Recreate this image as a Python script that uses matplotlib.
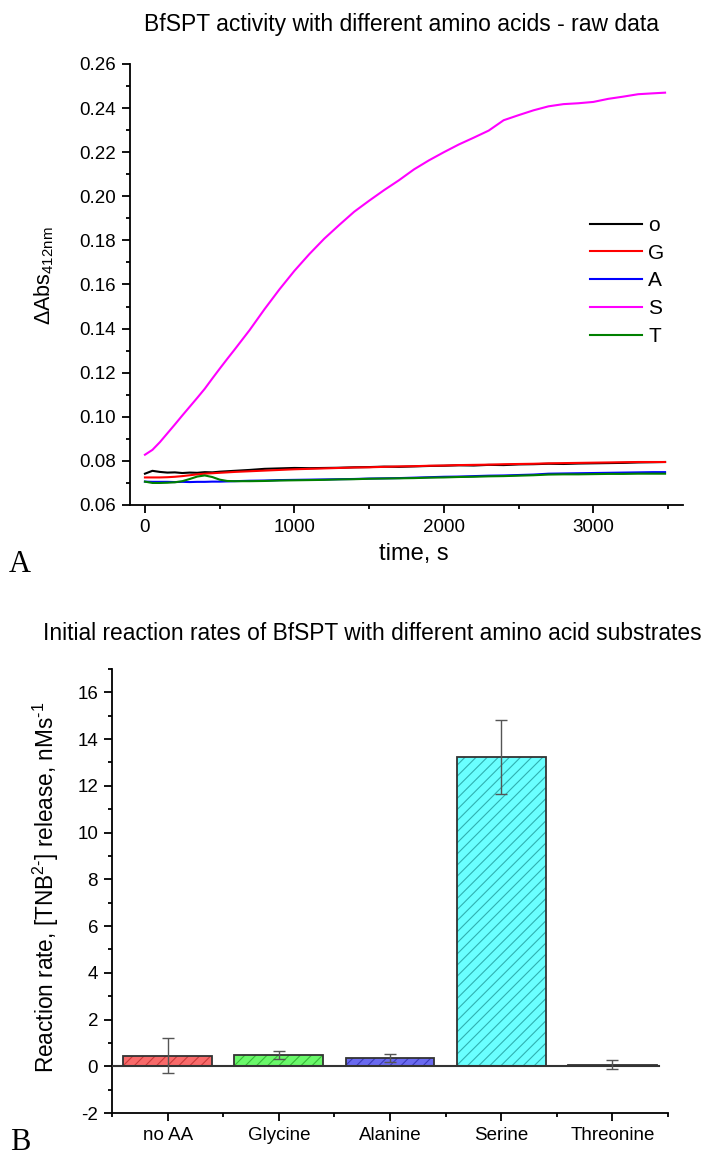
import matplotlib
matplotlib.use("Agg")
import matplotlib.pyplot as plt
from matplotlib.ticker import MultipleLocator, FixedLocator, FormatStrFormatter

plt.rcParams['font.family'] = ['Liberation Sans', 'DejaVu Sans']
plt.rcParams['mathtext.fontset'] = 'custom'
plt.rcParams['mathtext.rm'] = 'Liberation Sans'
plt.rcParams['mathtext.it'] = 'Liberation Sans'
plt.rcParams['mathtext.default'] = 'regular'
plt.rcParams['axes.unicode_minus'] = False
plt.rcParams['hatch.linewidth'] = 0.8

# ---- Panel A: raw absorbance traces ----
time_s = [0, 50, 100, 150, 200, 250, 300, 350, 400, 450, 500, 550, 600,
          700, 800, 900, 1000, 1100, 1200, 1300, 1400, 1500, 1600, 1700,
          1800, 1900, 2000, 2100, 2200, 2300, 2400, 2500, 2600, 2700, 2800,
          2900, 3000, 3100, 3200, 3300, 3400, 3480]

abs_none = [0.0742, 0.0755, 0.0750, 0.0747, 0.0748, 0.0745, 0.0747, 0.0746,
            0.0749, 0.0748, 0.0751, 0.0753, 0.0755, 0.0759, 0.0764, 0.0766,
            0.0768, 0.0767, 0.0768, 0.0769, 0.0771, 0.0772, 0.0774, 0.0773,
            0.0775, 0.0777, 0.0778, 0.0780, 0.0779, 0.0782, 0.0781, 0.0784,
            0.0785, 0.0787, 0.0786, 0.0788, 0.0789, 0.0790, 0.0791, 0.0793,
            0.0794, 0.0795]
abs_gly = [0.0725, 0.0725, 0.0725, 0.0726, 0.0728, 0.0731, 0.0735, 0.0739,
           0.0742, 0.0744, 0.0746, 0.0748, 0.0750, 0.0753, 0.0756, 0.0759,
           0.0762, 0.0764, 0.0766, 0.0768, 0.0770, 0.0771, 0.0773, 0.0775,
           0.0776, 0.0778, 0.0779, 0.0781, 0.0782, 0.0783, 0.0785, 0.0786,
           0.0787, 0.0789, 0.0790, 0.0791, 0.0792, 0.0793, 0.0794, 0.0795,
           0.0795, 0.0795]
abs_ala = [0.0706, 0.0705, 0.0705, 0.0705, 0.0704, 0.0705, 0.0704, 0.0705,
           0.0705, 0.0706, 0.0706, 0.0707, 0.0708, 0.0710, 0.0711, 0.0713,
           0.0714, 0.0715, 0.0716, 0.0717, 0.0718, 0.0720, 0.0721, 0.0722,
           0.0724, 0.0726, 0.0728, 0.0729, 0.0731, 0.0733, 0.0734, 0.0736,
           0.0738, 0.0742, 0.0743, 0.0744, 0.0745, 0.0746, 0.0747, 0.0748,
           0.0749, 0.0749]
abs_ser = [0.0828, 0.0850, 0.0885, 0.0925, 0.0965, 0.1006, 0.1046, 0.1086,
           0.1127, 0.1173, 0.1218, 0.1262, 0.1305, 0.1393, 0.1488, 0.1578,
           0.1662, 0.1738, 0.1808, 0.1870, 0.1930, 0.1980, 0.2028, 0.2073,
           0.2122, 0.2163, 0.2200, 0.2235, 0.2266, 0.2298, 0.2345, 0.2368,
           0.2390, 0.2408, 0.2418, 0.2422, 0.2428, 0.2442, 0.2452, 0.2463,
           0.2467, 0.2470]
abs_thr = [0.0706, 0.0700, 0.0700, 0.0701, 0.0703, 0.0708, 0.0718, 0.0729,
           0.0734, 0.0727, 0.0715, 0.0709, 0.0708, 0.0708, 0.0709, 0.0711,
           0.0712, 0.0713, 0.0714, 0.0716, 0.0717, 0.0719, 0.0720, 0.0721,
           0.0722, 0.0724, 0.0725, 0.0727, 0.0728, 0.0730, 0.0731, 0.0733,
           0.0735, 0.0738, 0.0739, 0.0739, 0.0740, 0.0741, 0.0741, 0.0742,
           0.0742, 0.0742]

trace_labels = ['o', 'G', 'A', 'S', 'T']
trace_colors = ['#000000', '#ff0000', '#0000ff', '#ff00ff', '#008000']

# ---- Panel B: initial rates ----
substrates = ['no AA', 'Glycine', 'Alanine', 'Serine', 'Threonine']
rates = [0.45, 0.50, 0.35, 13.23, 0.07]
rate_err = [0.75, 0.17, 0.17, 1.57, 0.18]
bar_faces = ['#f86a6a', '#6af86a', '#6a6af0', '#6affff', '#ff6aff']
bar_hatches = ['#c83a3a', '#38b838', '#3a3ab8', '#30b0b0', '#b030b0']

W, H = 707, 1157
fig = plt.figure(figsize=(W / 100, H / 100), dpi=100)


def px_axes(left, top, right, bottom):
    return fig.add_axes([left / W, 1 - bottom / H, (right - left) / W, (bottom - top) / H])


def style_axes(ax):
    for s in ('top', 'right'):
        ax.spines[s].set_visible(False)
    for s in ('left', 'bottom'):
        ax.spines[s].set_linewidth(1.3)
    ax.tick_params(which='major', direction='out', length=5.5, width=1.3,
                   labelsize=13.5, pad=4.5)
    ax.tick_params(which='minor', direction='out', length=3, width=1.3)


# Panel A
axA = px_axes(130, 64, 683, 505)
series = [abs_none, abs_gly, abs_ala, abs_ser, abs_thr]
handles = {}
for i in [3, 0, 1, 2, 4]:
    ln, = axA.plot(time_s, series[i], color=trace_colors[i], lw=1.5, label=trace_labels[i])
    handles[i] = ln
axA.set_xlim(-100, 3600)
axA.set_ylim(0.06, 0.26)
axA.xaxis.set_major_locator(MultipleLocator(1000))
axA.xaxis.set_minor_locator(MultipleLocator(500))
axA.yaxis.set_major_locator(MultipleLocator(0.02))
axA.yaxis.set_minor_locator(MultipleLocator(0.01))
axA.yaxis.set_major_formatter(FormatStrFormatter('%.2f'))
style_axes(axA)
axA.legend([handles[i] for i in range(5)], trace_labels, loc='upper left',
           bbox_to_anchor=((590 - 130) / 553, (505 - 216) / 441),
           frameon=False, fontsize=15, handlelength=2.5, handletextpad=0.3,
           labelspacing=0.42, borderpad=0, borderaxespad=0)

fig.text(402 / W, 1 - 25 / H, 'BfSPT activity with different amino acids - raw data',
         ha='center', va='center', fontsize=16.5)
fig.text(44 / W, 1 - 276 / H, r'$\Delta$Abs$_{412nm}$', rotation=90,
         ha='center', va='center', fontsize=15.5)
fig.text(414 / W, 1 - 554 / H, 'time, s', ha='center', va='center', fontsize=17)
fig.text(20 / W, 1 - 572 / H, 'A', ha='center', va='baseline', fontsize=22,
         family=['Liberation Serif', 'DejaVu Serif'])

# Panel B
axB = px_axes(112, 669, 668, 1113)
x = list(range(len(substrates)))
axB.bar(x, rates, width=0.8, color=bar_faces, edgecolor='none', zorder=2)
axB.bar(x, rates, width=0.8, color='none', edgecolor=bar_hatches, hatch='///',
        linewidth=0, zorder=3)
axB.bar(x, rates, width=0.8, color='none', edgecolor='#333333', linewidth=1.3, zorder=4)
axB.plot([-0.5, 4.42], [0, 0], color='#333333', lw=1.5, zorder=5)
axB.errorbar(x, rates, yerr=rate_err, fmt='none', ecolor='#555555', elinewidth=1,
             capsize=4, capthick=1, zorder=6)
axB.set_xlim(-0.5, 4.5)
axB.set_ylim(-2, 17)
axB.set_xticks(x)
axB.set_xticklabels(substrates)
axB.xaxis.set_minor_locator(FixedLocator([-0.5, 0.5, 1.5, 2.5, 3.5, 4.5]))
axB.yaxis.set_major_locator(MultipleLocator(2))
axB.yaxis.set_minor_locator(MultipleLocator(1))
style_axes(axB)

fig.text(43 / W, 1 - 633 / H,
         'Initial reaction rates of BfSPT with different amino acid substrates',
         ha='left', va='center', fontsize=16.4)
fig.text(46 / W, 1 - 887 / H,
         r'Reaction rate, [TNB$^{2\text{-}}$] release, nMs$^{\text{-}1}$', rotation=90,
         ha='center', va='center', fontsize=16.3)
fig.text(20 / W, 1 - 1150 / H, 'B', ha='center', va='baseline', fontsize=22,
         family=['Liberation Serif', 'DejaVu Serif'])

fig.savefig('out.png', dpi=100)
